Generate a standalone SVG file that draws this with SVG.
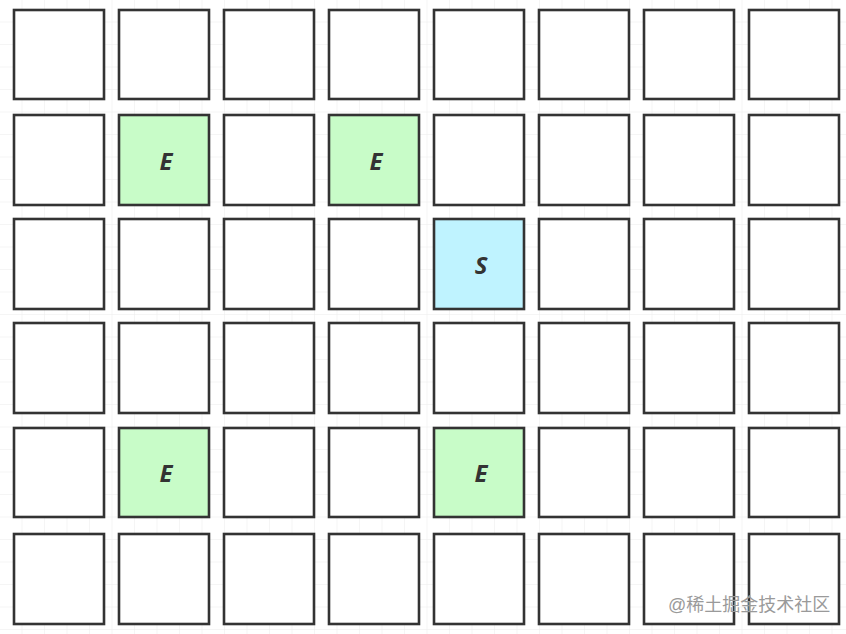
<svg xmlns="http://www.w3.org/2000/svg" width="846" height="634" viewBox="0 0 846 634">
<defs>
<pattern id="bg" x="0" y="0" width="22.5" height="22.5" patternUnits="userSpaceOnUse">
<path d="M22.5 0V22.5M0 22.5H22.5" fill="none" stroke="#ececec" stroke-width="1"/>
</pattern>
<style>
.c{fill:#ffffff;stroke:#333333;stroke-width:2.6}
.e{fill:#c8fcc8;stroke:#333333;stroke-width:2.6}
.s{fill:#bff3ff;stroke:#333333;stroke-width:2.6}
.t{font-family:"Open Sans","DejaVu Sans",sans-serif;font-size:24px;font-weight:bold;font-style:italic;fill:#333333;text-anchor:middle;dominant-baseline:central}
.wm{font-family:"Liberation Sans","Noto Sans CJK SC",sans-serif;font-size:18px;fill:#9a9a9a}
</style>
</defs>
<rect width="846" height="634" fill="#ffffff"/>
<rect width="846" height="634" fill="url(#bg)"/>
<g id="r1">
<rect class="c" x="14" y="10" width="90" height="89"/>
<rect class="c" x="119" y="10" width="90" height="89"/>
<rect class="c" x="224" y="10" width="90" height="89"/>
<rect class="c" x="329" y="10" width="90" height="89"/>
<rect class="c" x="434" y="10" width="90" height="89"/>
<rect class="c" x="539" y="10" width="90" height="89"/>
<rect class="c" x="644" y="10" width="90" height="89"/>
<rect class="c" x="749" y="10" width="90" height="89"/>
</g>
<g id="r2">
<rect class="c" x="14" y="115" width="90" height="90"/>
<g id="e1"><rect class="e" x="119" y="115" width="90" height="90"/><text class="t" x="166" y="160">E</text></g>
<rect class="c" x="224" y="115" width="90" height="90"/>
<g id="e2"><rect class="e" x="329" y="115" width="90" height="90"/><text class="t" x="376" y="160">E</text></g>
<rect class="c" x="434" y="115" width="90" height="90"/>
<rect class="c" x="539" y="115" width="90" height="90"/>
<rect class="c" x="644" y="115" width="90" height="90"/>
<rect class="c" x="749" y="115" width="90" height="90"/>
</g>
<g id="r3">
<rect class="c" x="14" y="219" width="90" height="90"/>
<rect class="c" x="119" y="219" width="90" height="90"/>
<rect class="c" x="224" y="219" width="90" height="90"/>
<rect class="c" x="329" y="219" width="90" height="90"/>
<g id="s"><rect class="s" x="434" y="219" width="90" height="90"/><text class="t" x="481" y="264">S</text></g>
<rect class="c" x="539" y="219" width="90" height="90"/>
<rect class="c" x="644" y="219" width="90" height="90"/>
<rect class="c" x="749" y="219" width="90" height="90"/>
</g>
<g id="r4">
<rect class="c" x="14" y="323" width="90" height="90"/>
<rect class="c" x="119" y="323" width="90" height="90"/>
<rect class="c" x="224" y="323" width="90" height="90"/>
<rect class="c" x="329" y="323" width="90" height="90"/>
<rect class="c" x="434" y="323" width="90" height="90"/>
<rect class="c" x="539" y="323" width="90" height="90"/>
<rect class="c" x="644" y="323" width="90" height="90"/>
<rect class="c" x="749" y="323" width="90" height="90"/>
</g>
<g id="r5">
<rect class="c" x="14" y="428" width="90" height="89"/>
<g id="e3"><rect class="e" x="119" y="428" width="90" height="89"/><text class="t" x="166" y="472">E</text></g>
<rect class="c" x="224" y="428" width="90" height="89"/>
<rect class="c" x="329" y="428" width="90" height="89"/>
<g id="e4"><rect class="e" x="434" y="428" width="90" height="89"/><text class="t" x="481" y="472">E</text></g>
<rect class="c" x="539" y="428" width="90" height="89"/>
<rect class="c" x="644" y="428" width="90" height="89"/>
<rect class="c" x="749" y="428" width="90" height="89"/>
</g>
<g id="r6">
<rect class="c" x="14" y="534" width="90" height="90"/>
<rect class="c" x="119" y="534" width="90" height="90"/>
<rect class="c" x="224" y="534" width="90" height="90"/>
<rect class="c" x="329" y="534" width="90" height="90"/>
<rect class="c" x="434" y="534" width="90" height="90"/>
<rect class="c" x="539" y="534" width="90" height="90"/>
<rect class="c" x="644" y="534" width="90" height="90"/>
<rect class="c" x="749" y="534" width="90" height="90"/>
</g>
<g id="connectors"></g>
<text class="wm" x="668" y="611">@稀土掘金技术社区</text>
</svg>
